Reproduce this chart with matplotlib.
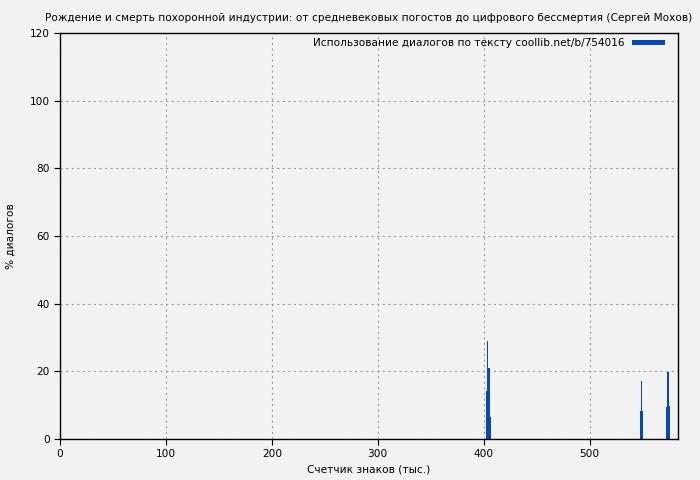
import numpy as np
import matplotlib.pyplot as plt

# dialogue share per 1k-character chunk (only non-zero chunks)
pos = [403, 404, 405, 406, 548, 549, 550, 573, 574, 575]
pct = [14.2, 29.0, 21.0, 6.6, 8.3, 17.1, 8.3, 9.5, 19.7, 9.8]

title = "Рождение и смерть похоронной индустрии: от средневековых погостов до цифрового бессмертия (Сергей Мохов)"
legend_label = "Использование диалогов по тексту coollib.net/b/754016"
bar_color = '#0a47b0'

fig = plt.figure(figsize=(7, 4.8), dpi=100, facecolor='#f2f2f2')
ax = fig.add_axes([0.0857, 0.0854, 0.883, 0.8456])
ax.set_facecolor('#f2f2f2')

ax.bar(pos, pct, width=1.0, color=bar_color, linewidth=0, label=legend_label)

ax.set_xlim(0, 583.5)
ax.set_ylim(0, 120)
ax.set_xticks(np.arange(0, 501, 100))
ax.set_yticks(np.arange(0, 121, 20))
ax.tick_params(labelsize=7.6, direction='out', length=4)
ax.grid(True, color='#a0a0a0', linestyle=(0, (2, 3)), linewidth=0.8)
ax.set_axisbelow(True)
for s in ax.spines.values():
    s.set_linewidth(1.0)

ax.set_title(title, fontsize=7.6, pad=9)
ax.set_xlabel("Счетчик знаков (тыс.)", fontsize=7.6)
ax.set_ylabel("% диалогов", fontsize=7.6, labelpad=10)

leg = ax.legend(loc='upper right', fontsize=7.6, frameon=False, markerfirst=False,
                handlelength=3.1, handleheight=0.35, borderaxespad=0.2,
                handletextpad=0.75)
leg.set_bbox_to_anchor((1 - 7 / ax.bbox.width, 1.003), transform=ax.transAxes)

plt.savefig('out.png', dpi=100, facecolor='#f2f2f2')
